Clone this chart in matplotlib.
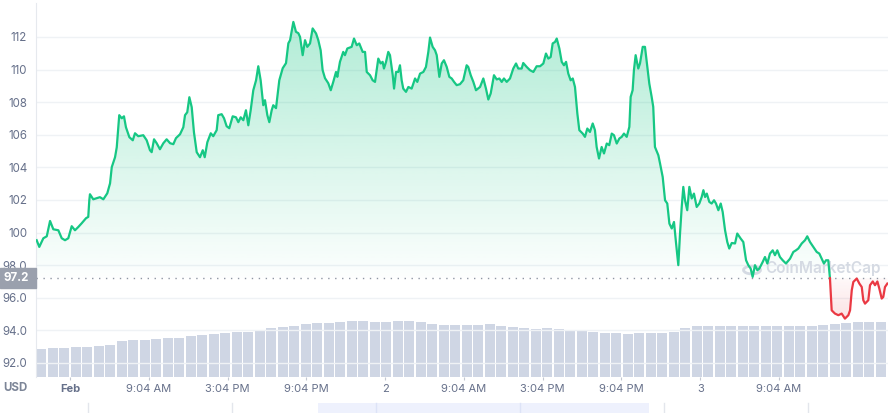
import numpy as np
import matplotlib
matplotlib.use('Agg')
import matplotlib.pyplot as plt
import matplotlib.transforms as mtransforms
from matplotlib.colors import to_rgb
from matplotlib.patches import Rectangle, Circle
from matplotlib.lines import Line2D

plt.rcParams['font.family'] = ['Inter', 'DejaVu Sans']

# time in hours from the "Feb" tick, price in USD
hours = [-2.54, -2.34, -2.03, -1.77, -1.52, -1.27, -0.89, -0.63, -0.38, -0.13,
         0.13, 0.38, 0.63, 0.89, 1.22, 1.39, 1.47, 1.52, 1.77, 2.28,
         2.54, 2.84, 3.05, 3.18, 3.43, 3.56, 3.75, 3.94, 4.11, 4.26,
         4.52, 4.78, 4.95, 5.20, 5.58, 5.84, 6.09, 6.22, 6.40, 6.60,
         6.85, 7.11, 7.36, 7.62, 7.87, 8.07, 8.38, 8.63, 8.76, 8.93,
         9.09, 9.27, 9.44, 9.65, 9.90, 10.11, 10.26, 10.46, 10.72, 10.91,
         11.17, 11.29, 11.55, 11.73, 11.93, 12.13, 12.39, 12.64, 12.82, 13.00,
         13.20, 13.40, 13.58, 13.76, 13.96, 14.17, 14.34, 14.52, 14.72, 14.85,
         15.03, 15.18, 15.36, 15.48, 15.69, 15.94, 16.20, 16.45, 16.63, 16.76,
         17.01, 17.21, 17.39, 17.52, 17.72, 17.90, 18.07, 18.28, 18.48, 18.74,
         18.91, 19.09, 19.24, 19.42, 19.67, 19.86, 20.05, 20.26, 20.36, 20.56,
         20.81, 20.94, 21.12, 21.45, 21.63, 21.84, 22.03, 22.29, 22.47, 22.60,
         22.85, 23.05, 23.23, 23.48, 23.66, 23.81, 23.91, 24.07, 24.24, 24.37,
         24.58, 24.68, 24.83, 25.00, 25.13, 25.26, 25.38, 25.59, 25.77, 26.02,
         26.28, 26.45, 26.66, 26.91, 27.11, 27.29, 27.42, 27.62, 27.80, 27.93,
         28.13, 28.31, 28.48, 28.69, 28.89, 29.07, 29.25, 29.45, 29.70, 29.95,
         30.21, 30.33, 30.52, 30.72, 30.92, 31.23, 31.48, 31.68, 31.86, 32.04,
         32.29, 32.50, 32.70, 32.88, 33.05, 33.26, 33.51, 33.76, 33.97, 34.14,
         34.40, 34.52, 34.78, 35.03, 35.29, 35.54, 35.80, 36.05, 36.25, 36.43,
         36.61, 36.76, 36.94, 37.07, 37.27, 37.45, 37.62, 37.78, 37.95, 38.13,
         38.29, 38.46, 38.64, 38.79, 39.05, 39.22, 39.40, 39.60, 39.81, 39.98,
         40.11, 40.29, 40.49, 40.67, 40.88, 41.07, 41.26, 41.43, 41.64, 41.84,
         42.02, 42.19, 42.40, 42.60, 42.70, 42.85, 42.95, 43.08, 43.28, 43.41,
         43.62, 43.79, 43.97, 44.12, 44.30, 44.42, 44.55, 44.81, 44.94, 45.14,
         45.32, 45.49, 45.65, 45.83, 46.00, 46.16, 46.33, 46.46, 46.59, 46.71,
         46.84, 47.01, 47.17, 47.35, 47.52, 47.73, 47.93, 48.11, 48.24, 48.37,
         48.50, 48.69, 48.87, 49.05, 49.20, 49.38, 49.56, 49.71, 49.89, 50.06,
         50.21, 50.40, 50.65, 50.82, 51.08, 51.28, 51.49, 51.66, 51.84, 51.99,
         52.17, 52.35, 52.50, 52.76, 52.93, 53.11, 53.31, 53.52, 53.69, 53.87,
         54.07, 54.28, 54.53, 54.84, 55.09, 55.29, 55.47, 55.73, 55.98, 56.15,
         56.36, 56.61, 56.87, 57.07, 57.25, 57.42, 57.58, 57.75, 57.88, 58.01,
         58.26, 58.52, 58.77, 59.02, 59.28, 59.41, 59.54, 59.66, 59.92, 60.12,
         60.30, 60.42, 60.55, 60.80, 60.93, 61.14, 61.31, 61.49, 61.64, 61.82,
         61.94, 62.07, 62.25]

price = [99.53, 99.12, 99.65, 99.77, 100.71, 100.20, 100.14, 99.65, 99.53, 99.65,
         100.39, 100.14, 100.34, 100.57, 100.88, 100.96, 101.98, 102.35, 102.04, 102.17,
         102.04, 102.41, 103.02, 104.01, 104.62, 105.23, 107.20, 107.01, 107.13, 106.46,
         105.85, 105.66, 106.09, 105.91, 105.97, 105.66, 105.05, 104.93, 105.72, 105.48,
         105.11, 105.48, 105.72, 105.48, 105.42, 105.79, 106.03, 106.46, 107.20, 107.38,
         108.30, 107.69, 106.15, 104.93, 104.62, 105.05, 104.62, 105.54, 106.09, 105.91,
         106.28, 107.20, 107.26, 107.01, 106.52, 106.40, 107.13, 107.07, 106.77, 107.07,
         106.89, 107.50, 106.58, 107.50, 108.73, 109.34, 110.20, 109.34, 107.81, 108.12,
         107.20, 106.77, 107.50, 107.81, 107.63, 109.34, 110.08, 110.39, 111.61, 111.80,
         112.92, 112.31, 112.23, 112.00, 110.88, 111.80, 111.39, 111.60, 112.52, 112.21,
         111.80, 111.18, 109.96, 109.47, 109.16, 108.73, 109.24, 109.85, 109.55, 110.47,
         111.08, 110.88, 111.29, 111.39, 111.90, 111.49, 111.60, 111.08, 111.08, 109.85,
         109.65, 109.34, 109.24, 110.67, 110.37, 110.47, 110.06, 110.47, 111.08, 110.88,
         109.65, 108.83, 109.85, 109.85, 110.26, 109.34, 108.83, 108.63, 108.93, 108.83,
         109.45, 109.24, 109.75, 109.85, 110.16, 111.08, 111.96, 111.39, 111.18, 110.88,
         109.55, 110.37, 110.57, 110.16, 109.55, 109.45, 109.24, 109.04, 109.10, 109.34,
         110.26, 110.16, 109.65, 109.24, 108.73, 108.93, 109.45, 108.83, 108.16, 108.53,
         109.65, 109.39, 109.45, 109.24, 109.45, 109.24, 109.45, 110.06, 110.37, 110.06,
         110.06, 110.40, 110.16, 109.96, 109.85, 110.20, 110.20, 110.37, 110.98, 110.67,
         110.77, 111.60, 111.69, 111.90, 111.29, 110.47, 110.26, 110.47, 109.75, 109.34,
         109.45, 108.93, 107.30, 106.28, 106.07, 105.87, 106.38, 106.17, 106.69, 106.28,
         105.25, 104.54, 105.25, 104.85, 105.46, 105.36, 106.07, 105.97, 105.46, 105.77,
         105.87, 106.07, 105.87, 106.48, 108.32, 108.73, 109.96, 110.88, 110.06, 110.37,
         111.39, 111.39, 110.16, 109.14, 108.32, 107.71, 105.25, 104.74, 104.23, 103.41,
         101.98, 101.78, 100.55, 100.25, 100.65, 99.33, 98.00, 99.94, 101.57, 102.80,
         101.98, 101.37, 102.80, 102.09, 102.39, 101.57, 101.78, 102.18, 102.60, 102.18,
         102.39, 101.88, 101.78, 101.98, 101.78, 101.37, 101.78, 101.26, 100.14, 99.42,
         99.02, 99.36, 99.33, 99.94, 99.63, 99.42, 98.30, 98.00, 97.79, 97.28,
         98.00, 97.69, 97.79, 98.20, 98.50, 98.10, 98.71, 98.91, 98.61, 98.91,
         98.50, 98.30, 98.10, 98.40, 98.81, 98.91, 99.02, 99.33, 99.53, 99.77,
         99.42, 99.12, 98.81, 98.71, 98.40, 98.10, 98.30, 98.30, 97.20, 95.23,
         95.03, 94.93, 95.03, 94.72, 94.93, 95.23, 96.46, 96.97, 97.18, 96.87,
         96.66, 95.85, 95.64, 95.85, 96.77, 97.00, 96.77, 97.00, 96.56, 95.95,
         96.05, 96.66, 96.87]

ref_price = 97.2
split = 308  # point where the price falls under the reference

# volume bars (relative units), first bar starts at vol_start hours
vol_start = -2.59
vol_step = 0.876
volume = [2.80, 2.90, 2.93, 3.03, 3.03, 3.13, 3.20, 3.60, 3.70, 3.70,
          3.80, 3.87, 3.90, 4.10, 4.20, 4.30, 4.43, 4.50, 4.50, 4.60,
          4.87, 5.00, 5.15, 5.30, 5.40, 5.40, 5.55, 5.60, 5.60, 5.50,
          5.50, 5.60, 5.60, 5.55, 5.33, 5.23, 5.20, 5.20, 5.20, 5.27,
          5.10, 5.00, 4.90, 4.80, 4.90, 4.77, 4.63, 4.60, 4.50, 4.40,
          4.37, 4.27, 4.37, 4.37, 4.40, 4.53, 4.90, 5.10, 5.10, 5.10,
          5.10, 5.10, 5.10, 5.10, 5.10, 5.10, 5.10, 5.10, 5.20, 5.30,
          5.37, 5.47, 5.55, 5.53]

x_ticks = [0, 6, 12, 18, 24, 30, 36, 42, 48, 54]
x_labels = ['Feb', '9:04 AM', '3:04 PM', '9:04 PM', '2',
            '9:04 AM', '3:04 PM', '9:04 PM', '3', '9:04 AM']
y_ticks = [92, 94, 96, 98, 100, 102, 104, 106, 108, 110, 112]
y_labels = ['92.0', '94.0', '96.0', '98.0', '100', '102', '104', '106', '108', '110', '112']

GREEN = '#16c784'
RED = '#ea3943'
TXT = '#66708a'
W, H = 893, 413


def gradient_fill(ax, x, y, base, color, ylo, yhi, a_top, a_bot):
    poly = ax.fill_between(x, y, base, facecolor='none', edgecolor='none')
    grad = np.zeros((256, 1, 4))
    grad[:, :, :3] = to_rgb(color)
    grad[:, 0, 3] = np.linspace(a_top, a_bot, 256)
    im = ax.imshow(grad, aspect='auto', origin='upper', zorder=2,
                   extent=[min(x), max(x), ylo, yhi], interpolation='bilinear')
    im.set_clip_path(poly.get_paths()[0], transform=ax.transData)


fig = plt.figure(figsize=(W / 100, H / 100), dpi=100)
ax = fig.add_axes([36 / W, 36 / H, 852 / W, 374 / H])
axv = ax.twinx()

# volume bars underneath
vol_t = [vol_start + i * vol_step for i in range(len(volume))]
axv.bar(vol_t, volume, width=vol_step * 0.88, align='edge', color='#cfd6e4', linewidth=0)
axv.set_ylim(0, 37.4)
axv.set_yticks([])
for s in axv.spines.values():
    s.set_visible(False)

ax.set_zorder(axv.get_zorder() + 1)
ax.patch.set_visible(False)

h = np.array(hours)
p = np.array(price)
gradient_fill(ax, h[:split + 1], p[:split + 1], ref_price, GREEN, ref_price, 113.2, 0.34, 0.01)
gradient_fill(ax, h[split:], p[split:], ref_price, RED, 94.5, ref_price, 0.03, 0.15)
ax.plot(h[:split + 1], p[:split + 1], color=GREEN, lw=1.6, zorder=4, solid_joinstyle='round')
ax.plot(h[split:], p[split:], color=RED, lw=1.6, zorder=4, solid_joinstyle='round')

ax.axhline(ref_price, color='#8f96a3', lw=1, ls=(0, (1, 4)), zorder=3)

# watermark, behind the price line
ax.add_patch(Circle((752 / W, 1 - 270 / H), 0.0095, transform=fig.transFigure,
                    fill=False, edgecolor='#d5dae3', lw=2, zorder=3))
ax.text(765 / W, 1 - 268 / H, 'CoinMarketCap', transform=fig.transFigure,
        color='#d5dae3', fontsize=11, fontweight='semibold', va='center',
        ha='left', zorder=3)

ax.set_xlim(vol_start, 62.3)
ax.set_ylim(91.14, 114.08)
ax.set_yticks(y_ticks)
ax.set_yticklabels(y_labels)
ax.set_xticks(x_ticks)
ax.set_xticklabels(x_labels)
ax.get_xticklabels()[0].set_fontweight('bold')
ax.grid(axis='y', color='#eff2f5', lw=1, zorder=1)
ax.set_axisbelow(True)
ax.tick_params(axis='x', length=2.2, width=0.8, color='#c3c8d1', labelsize=8,
               labelcolor=TXT, pad=2.8)
ax.tick_params(axis='y', length=0, labelsize=8.3, labelcolor=TXT, pad=6.3)
for name in ['top', 'right', 'bottom']:
    ax.spines[name].set_visible(False)
ax.spines['left'].set_color('#e6e9ee')

# current price tag on the left
blend = mtransforms.blended_transform_factory(fig.transFigure, ax.transData)
fig.add_artist(Rectangle((0, ref_price - 0.6), 36 / W, 1.2, transform=blend,
                         color='#9aa0ad', zorder=5))
fig.text(4 / W, ref_price, '97.2', transform=blend, color='white', fontsize=8.3,
         fontweight='bold', va='center', ha='left', zorder=6)

fig.text(3 / W, 1 - 388 / H, 'USD', color='#7c8597', fontsize=8.3,
         fontweight='bold', va='center', ha='left')

# navigator strip at the bottom edge
fig.add_artist(Rectangle((318 / W, 0), 331 / W, 10 / H, transform=fig.transFigure,
                         color='#eef1fd', lw=0))
for xp, c in [(88, '#e3e6ec'), (232, '#e3e6ec'), (664, '#e3e6ec'), (808, '#e3e6ec'),
              (376, '#dde3f7'), (520, '#dde3f7')]:
    fig.add_artist(Line2D([xp / W, xp / W], [0, 10 / H], transform=fig.transFigure,
                          color=c, lw=1))

fig.savefig('out.png', dpi=100)
